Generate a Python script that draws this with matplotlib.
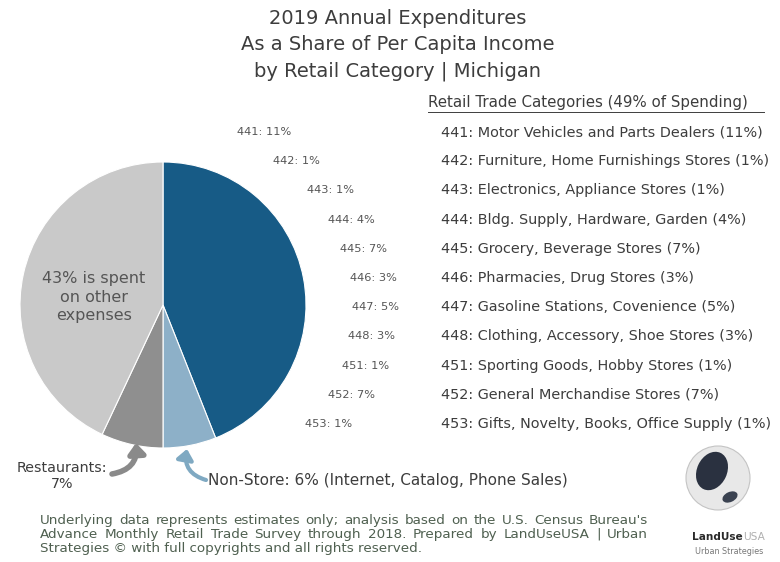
import numpy as np
import matplotlib.pyplot as plt
from matplotlib.patches import Circle, Ellipse, FancyArrowPatch

# slices of the pie (clockwise from top)
slice_names = ['Retail categories', 'Non-Store', 'Restaurants', 'Other expenses']
slice_pct = [44, 6, 7, 43]
slice_colors = ['#175b86', '#8db0c8', '#8f8f8f', '#c9c9c9']

# retail trade categories
codes = ['441', '442', '443', '444', '445', '446', '447', '448', '451', '452', '453']
names = ['Motor Vehicles and Parts Dealers', 'Furniture, Home Furnishings Stores',
         'Electronics, Appliance Stores', 'Bldg. Supply, Hardware, Garden',
         'Grocery, Beverage Stores', 'Pharmacies, Drug Stores',
         'Gasoline Stations, Covenience', 'Clothing, Accessory, Shoe Stores',
         'Sporting Goods, Hobby Stores', 'General Merchandise Stores',
         'Gifts, Novelty, Books, Office Supply']
pcts = [11, 1, 1, 4, 7, 3, 5, 3, 1, 7, 1]

W, H = 780, 562
fig = plt.figure(figsize=(W / 100, H / 100), dpi=100)

# pie
cx, cy, r = 163, 305, 143
pax = fig.add_axes([(cx - r) / W, (H - cy - r) / H, 2 * r / W, 2 * r / H])
pax.pie(slice_pct, colors=slice_colors, startangle=90, counterclock=False,
        wedgeprops=dict(edgecolor='white', linewidth=0.8))
pax.set_xlim(-1, 1)
pax.set_ylim(-1, 1)
pax.set_aspect('equal')
pax.axis('off')

# full-figure axes in pixel units for text, above the pie
bg = fig.add_axes([0, 0, 1, 1])
bg.set_xlim(0, W)
bg.set_ylim(H, 0)
bg.axis('off')
bg.set_zorder(2)

txt = '#3d3d3d'

# title
for i, line in enumerate(['2019 Annual Expenditures', 'As a Share of Per Capita Income',
                          'by Retail Category | Michigan']):
    bg.text(398, 18 + i * 26.5, line, ha='center', va='center', fontsize=14, color=txt)

bg.text(94, 297, f'{slice_pct[3]}% is spent\non other\nexpenses', ha='center', va='center',
        fontsize=11.5, color='#555555', linespacing=1.3)

# labels along the pie edge
label_x = [237, 273, 307, 328, 340, 350, 352, 348, 342, 328, 305]
top, step = 132, 29.2
for i, (c, p) in enumerate(zip(codes, pcts)):
    bg.text(label_x[i], top + i * step, f'{c}: {p}%', ha='left', va='center',
            fontsize=8.2, color='#555555')

# category list
bg.text(428, 103, f'Retail Trade Categories ({sum(pcts) + slice_pct[1] - 1}% of Spending)',
        ha='left', va='center', fontsize=10.8, color=txt)
bg.plot([428, 764], [112, 112], color=txt, lw=0.7)
for i, (c, n, p) in enumerate(zip(codes, names, pcts)):
    bg.text(441, top + i * step, f'{c}: {n} ({p}%)', ha='left', va='center',
            fontsize=10.4, color=txt)

# restaurants and non-store callouts
bg.text(62, 476, f'Restaurants:\n{slice_pct[2]}%', ha='center', va='center',
        fontsize=10.3, color=txt, linespacing=1.25)
bg.add_patch(FancyArrowPatch((112, 474), (136, 443), connectionstyle='arc3,rad=0.45',
                             arrowstyle='-|>,head_width=5,head_length=6', lw=4,
                             color='#8a8a8a', shrinkA=0, shrinkB=0))
bg.text(208, 480, f'Non-Store: {slice_pct[1]}% (Internet, Catalog, Phone Sales)',
        ha='left', va='center', fontsize=11, color=txt)
bg.add_patch(FancyArrowPatch((206, 480), (187, 449), connectionstyle='arc3,rad=-0.45',
                             arrowstyle='-|>,head_width=5,head_length=6', lw=3,
                             color='#7fa9c2', shrinkA=0, shrinkB=0))

# footnote, justified between x0 and x1 except the last line
foot = ['Underlying data represents estimates only; analysis based on the U.S. Census Bureau\'s',
        'Advance Monthly Retail Trade Survey through 2018. Prepared by LandUseUSA | Urban',
        'Strategies \u00a9 with full copyrights and all rights reserved.']
fig.canvas.draw()
rend = fig.canvas.get_renderer()
x0, x1 = 40, 648
fcol, fsize = '#4f6050', 9.7
for i, line in enumerate(foot):
    y = 524 + i * 14
    if i == len(foot) - 1:
        bg.text(x0, y, line, ha='left', va='baseline', fontsize=fsize, color=fcol)
        continue
    words = line.split(' ')
    objs = [bg.text(0, y, w, ha='left', va='baseline', fontsize=fsize, color=fcol)
            for w in words]
    widths = [o.get_window_extent(rend).width for o in objs]
    gap = (x1 - x0 - sum(widths)) / (len(words) - 1)
    x = x0
    for o, w in zip(objs, widths):
        o.set_x(x)
        x += w + gap

# logo
bg.add_patch(Circle((718, 478), 32, facecolor='#e8e8e8', edgecolor='#c4c4c4', lw=0.8))
bg.add_patch(Ellipse((712, 471), 30, 40, angle=25, facecolor='#2a3140', edgecolor='none'))
bg.add_patch(Ellipse((730, 497), 16, 10, angle=-25, facecolor='#3a4250', edgecolor='none'))
bg.text(692, 537, 'LandUse', ha='left', va='center', fontsize=7.6, color='#2a2a2a',
        fontweight='bold')
bg.text(743, 537, 'USA', ha='left', va='center', fontsize=7.6, color='#b0b0b0')
bg.text(729, 551, 'Urban Strategies', ha='center', va='center', fontsize=5.8, color='#777777')

fig.savefig('out.png', dpi=100)
